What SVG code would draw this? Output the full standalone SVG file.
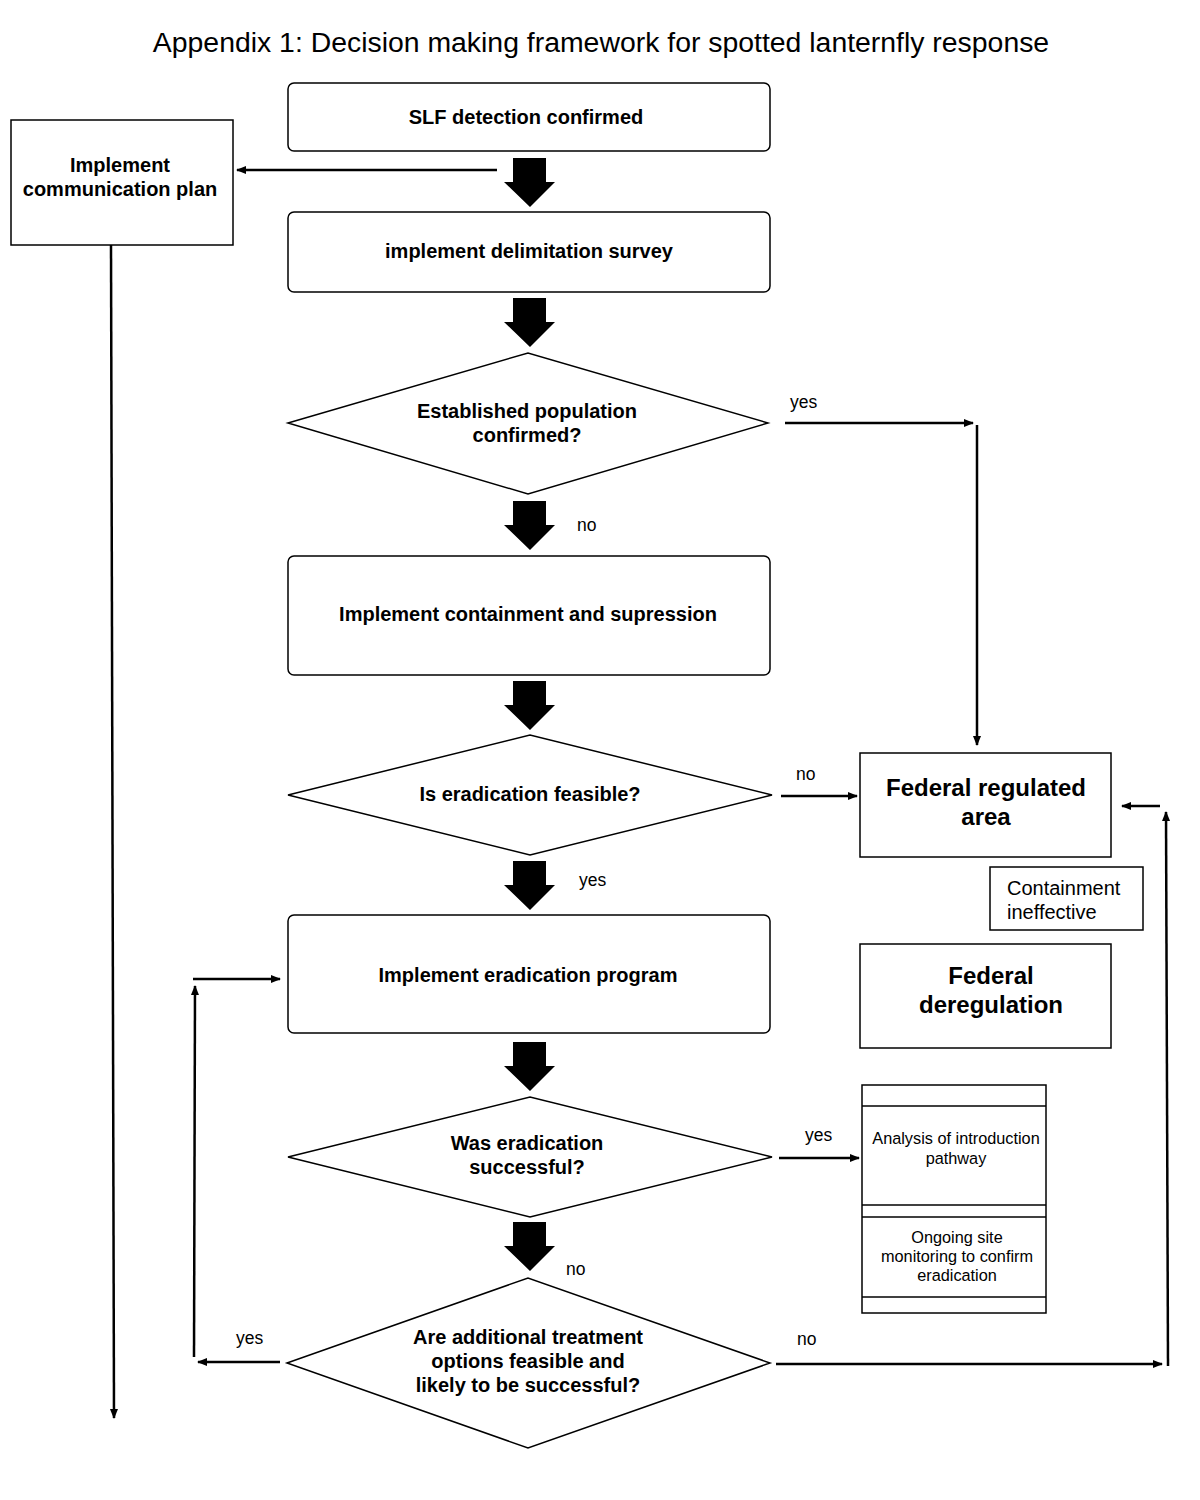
<svg xmlns="http://www.w3.org/2000/svg" width="1200" height="1500" viewBox="0 0 1200 1500">
<defs>
<marker id="ah" viewBox="0 0 10 10" refX="9" refY="5" markerWidth="4" markerHeight="4" orient="auto" markerUnits="strokeWidth"><path d="M0,1 L10,5 L0,9 Z" fill="#000"/></marker>
<path id="big" d="M-17,0 H16 V24 H25 L0,49 L-26,24 H-17 Z" fill="#000"/>
</defs>
<style>
.box{fill:#fff;stroke:#000;stroke-width:1.5}
.t{font-family:"Liberation Sans",Arial,sans-serif;fill:#000}
.b{font-weight:bold;font-size:20px;text-anchor:middle}
.bb{font-weight:bold;font-size:24px;text-anchor:middle}
.s{font-size:17.5px}
.ci{font-size:20px}
.sm{font-size:16.3px;text-anchor:middle}
.ln{fill:none;stroke:#000;stroke-width:2.5;marker-end:url(#ah)}
</style>
<rect width="1200" height="1500" fill="#fff"/>
<text class="t" x="601" y="52" font-size="28.4" text-anchor="middle">Appendix 1: Decision making framework for spotted lanternfly response</text>

<g id="n-detect"><rect class="box" x="288" y="83" width="482" height="68" rx="6"/><text class="t b" x="526" y="124">SLF detection confirmed</text></g>
<g id="n-comm"><rect class="box" x="11" y="120" width="222" height="125"/><text class="t b" x="120" y="172">Implement</text><text class="t b" x="120" y="196">communication plan</text></g>
<g id="n-delim"><rect class="box" x="288" y="212" width="482" height="80" rx="6"/><text class="t b" x="529" y="258">implement delimitation survey</text></g>
<g id="n-estab"><polygon class="box" points="288,423 528,353 768,423 528,494"/><text class="t b" x="527" y="418">Established population</text><text class="t b" x="527" y="442">confirmed?</text></g>
<g id="n-contain"><rect class="box" x="288" y="556" width="482" height="119" rx="6"/><text class="t b" x="528" y="621">Implement containment and supression</text></g>
<g id="n-feasible"><polygon class="box" points="288,795 530,735 772,795 530,855"/><text class="t b" x="530" y="801">Is eradication feasible?</text></g>
<g id="n-fra"><rect class="box" x="860" y="753" width="251" height="104"/><text class="t bb" x="986" y="796">Federal regulated</text><text class="t bb" x="986" y="825">area</text></g>
<g id="n-ineff"><rect class="box" x="990" y="867" width="153" height="63"/><text class="t ci" x="1007" y="895">Containment</text><text class="t ci" x="1007" y="919">ineffective</text></g>
<g id="n-erad"><rect class="box" x="288" y="915" width="482" height="118" rx="6"/><text class="t b" x="528" y="982">Implement eradication program</text></g>
<g id="n-dereg"><rect class="box" x="860" y="944" width="251" height="104"/><text class="t bb" x="991" y="984">Federal</text><text class="t bb" x="991" y="1013">deregulation</text></g>
<g id="n-success"><polygon class="box" points="288,1157 530,1097 772,1157 530,1217"/><text class="t b" x="527" y="1150">Was eradication</text><text class="t b" x="527" y="1174">successful?</text></g>
<g id="n-analysis"><rect class="box" x="862" y="1085" width="184" height="228"/><line x1="862" y1="1106" x2="1046" y2="1106" stroke="#000" stroke-width="1.5"/><line x1="862" y1="1205" x2="1046" y2="1205" stroke="#000" stroke-width="1.5"/><line x1="862" y1="1217" x2="1046" y2="1217" stroke="#000" stroke-width="1.5"/><line x1="862" y1="1297" x2="1046" y2="1297" stroke="#000" stroke-width="1.5"/>
<text class="t sm" x="956" y="1144">Analysis of introduction</text><text class="t sm" x="956" y="1164">pathway</text>
<text class="t sm" x="957" y="1243">Ongoing site</text><text class="t sm" x="957" y="1262">monitoring to confirm</text><text class="t sm" x="957" y="1281">eradication</text></g>
<g id="n-additional"><polygon class="box" points="287,1363 528,1278 770,1363 528,1448"/><text class="t b" x="528" y="1344">Are additional treatment</text><text class="t b" x="528" y="1368">options feasible and</text><text class="t b" x="528" y="1392">likely to be successful?</text></g>

<g id="connectors">
<use href="#big" x="530" y="158"/>
<use href="#big" x="530" y="298"/>
<use href="#big" x="530" y="501"/>
<use href="#big" x="530" y="681"/>
<use href="#big" x="530" y="861"/>
<use href="#big" x="530" y="1042"/>
<use href="#big" x="530" y="1222"/>
<path class="ln" d="M497,170 H237"/>
<path class="ln" d="M111,245 L114,1418"/>
<path class="ln" d="M785,423 H973"/>
<path class="ln" d="M977,425 V745"/>
<path class="ln" d="M781,796 H857"/>
<path class="ln" d="M1160,806 H1122"/>
<path class="ln" d="M1168,1366 L1166,812"/>
<path class="ln" d="M193,979 H280"/>
<path class="ln" d="M779,1158 H859"/>
<path class="ln" d="M280,1362 H198"/>
<path class="ln" d="M194,1357 L195,986"/>
<path class="ln" d="M776,1364 H1162"/>
<text class="t s" x="790" y="408">yes</text>
<text class="t s" x="577" y="531">no</text>
<text class="t s" x="796" y="780">no</text>
<text class="t s" x="579" y="886">yes</text>
<text class="t s" x="805" y="1141">yes</text>
<text class="t s" x="566" y="1275">no</text>
<text class="t s" x="236" y="1344">yes</text>
<text class="t s" x="797" y="1345">no</text>
</g>
</svg>
